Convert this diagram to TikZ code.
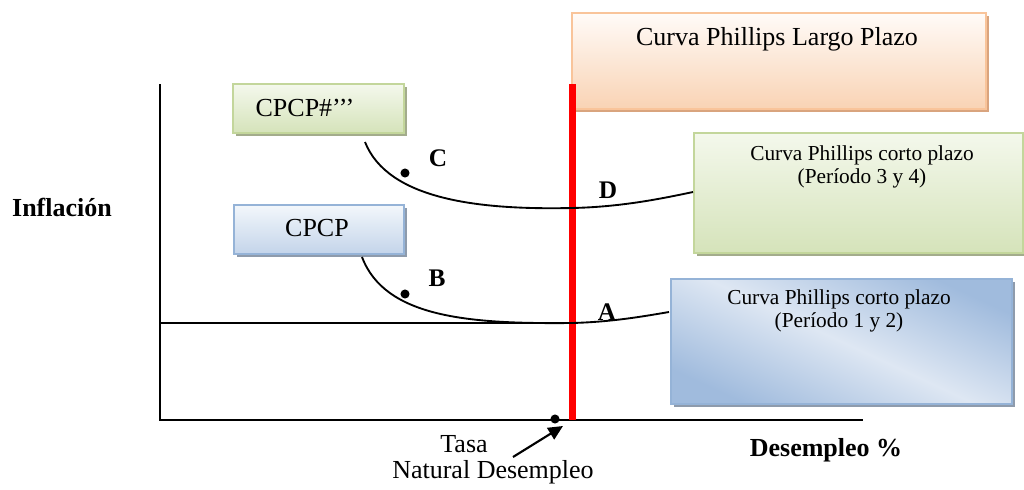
\documentclass[tikz,border=0pt]{standalone}
\usepackage{fontspec}
\setmainfont{Liberation Serif}
\usetikzlibrary{shadows,arrows.meta}
\definecolor{orBorder}{HTML}{F9C49A}
\definecolor{orTop}{HTML}{FFFBF8}
\definecolor{orBot}{HTML}{F9D3B4}
\definecolor{orShadow}{HTML}{D9A47E}
\definecolor{grBorder}{HTML}{C3D69B}
\definecolor{grTop}{HTML}{F4F8EC}
\definecolor{grBot}{HTML}{D5E3BA}
\definecolor{grShadow}{HTML}{A3AC8C}
\definecolor{blBorder}{HTML}{95B3D7}
\definecolor{blTop}{HTML}{F3F7FB}
\definecolor{blBot}{HTML}{C3D4EA}
\definecolor{blDark}{HTML}{A0BBDD}
\definecolor{blLight}{HTML}{DEE7F3}
\definecolor{blShadow}{HTML}{8E9BAC}
\tikzset{
  box/.style={draw, line width=1.5pt, inner sep=0pt, anchor=north west},
  orbox/.style={box, draw=orBorder, top color=orTop, bottom color=orBot,
    drop shadow={shadow xshift=2.5pt, shadow yshift=-2.5pt, fill=orShadow, opacity=1}},
  grbox/.style={box, draw=grBorder, top color=grTop, bottom color=grBot,
    drop shadow={shadow xshift=2.5pt, shadow yshift=-2.5pt, fill=grShadow, opacity=1}},
  blbox/.style={box, draw=blBorder, top color=blTop, bottom color=blBot,
    drop shadow={shadow xshift=2.5pt, shadow yshift=-2.5pt, fill=blShadow, opacity=1}},
  bldiag/.style={box, draw=blBorder, top color=blDark, bottom color=blDark, middle color=blLight, shading angle=-25,
    drop shadow={shadow xshift=2.5pt, shadow yshift=-2.5pt, fill=blShadow, opacity=1}},
  bigtxt/.style={font=\fontsize{19.5pt}{22pt}\selectfont, inner sep=0pt},
  smalltxt/.style={font=\fontsize{16pt}{17.3pt}\selectfont, align=center, inner sep=0pt},
  lbl/.style={font=\fontsize{19pt}{22pt}\selectfont\bfseries, inner sep=0pt},
  axis/.style={line width=1.4pt},
  curve/.style={line width=1.4pt},
  dot/.style={circle, fill=black, inner sep=0pt, minimum size=6.8pt},
}
\begin{document}
\begin{tikzpicture}[x=0.75pt,y=-0.75pt]
\path[use as bounding box] (0,0) rectangle (1024,489);
% axes
\coordinate (o) at (160,420);
\coordinate (ytop) at (160,84);
\coordinate (xend) at (863,420);
\draw[axis] (ytop) -- (o) -- (xend);
% boxes
\node[orbox, minimum width=310.5pt, minimum height=72pt] (lp) at (571,12) {};
\node[bigtxt] (lptxt) at (777,39) {Curva Phillips Largo Plazo};
\node[grbox, minimum width=128pt, minimum height=36.75pt] (g1) at (232,83) {};
\node[bigtxt] (g1txt) at (305,108) {CPCP\#’’’};
\node[blbox, minimum width=127.5pt, minimum height=36.75pt] (b1) at (233,204) {};
\node[bigtxt] (b1txt) at (317,228) {CPCP};
\node[grbox, minimum width=246.75pt, minimum height=90pt] (g2) at (693,132) {};
\node[smalltxt] (g2txt) at (862,167) {Curva Phillips corto plazo\\(Período 3 y 4)};
\node[bldiag, minimum width=255.75pt, minimum height=93.75pt] (b2) at (670,278) {};
\node[smalltxt] (b2txt) at (839,311) {Curva Phillips corto plazo\\(Período 1 y 2)};
% red line
\coordinate (rtop) at (572,84);
\coordinate (rbot) at (572,420);
\draw[red, line width=5.25pt] (rtop) -- (rbot);
% horizontal line
\coordinate (h0) at (160,323);
\coordinate (a) at (572,323);
\draw[curve] (h0) -- (a);
% curves
\coordinate (c1s) at (365,142);
\coordinate (d) at (572,208);
\coordinate (c1e) at (693,192);
\draw[curve] (c1s) .. controls (388,200) and (480,210) .. (d) .. controls (620,207) and (660,199) .. (c1e);
\coordinate (c2s) at (362,257);
\coordinate (c2e) at (669,312);
\draw[curve] (c2s) .. controls (385,318) and (470,324) .. (a) .. controls (610,322) and (640,317) .. (c2e);
% dots and labels
\node[dot] (dc) at (405,173) {};
\node[lbl] (lc) at (438,158) {C};
\node[lbl] (ld) at (608,190) {D};
\node[dot] (db) at (405,294) {};
\node[lbl] (lb) at (437,278) {B};
\node[lbl] (la) at (607,312) {A};
% axis labels
\node[lbl, font=\fontsize{19.5pt}{22pt}\selectfont\bfseries] (inf) at (62,207) {Inflación};
\node[lbl, font=\fontsize{19.5pt}{22pt}\selectfont\bfseries] (des) at (826,450) {Desempleo \%};
% natural rate
\node[dot] (nr) at (555,419) {};
\node[bigtxt] (tasa) at (464,444) {Tasa};
\node[bigtxt] (nat) at (493,472) {Natural Desempleo};
\coordinate (ars) at (513,457);
\coordinate (are) at (563,426);
\draw[line width=1.6pt, -{Triangle[length=11pt,width=10pt]}] (ars) -- (are);
\end{tikzpicture}
\end{document}
